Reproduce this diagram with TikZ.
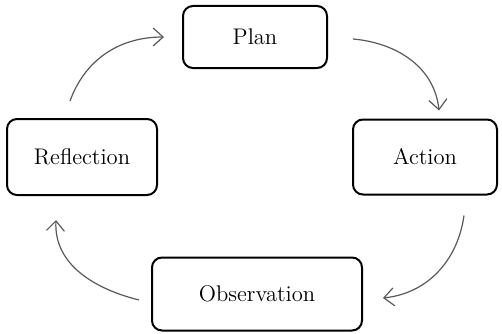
\documentclass[tikz,border=0pt]{standalone}
\usepackage{tikz}
\usetikzlibrary{arrows.meta,calc,positioning}
\tikzset{
  stage/.style={draw,rounded corners=5pt,line width=1pt,align=center,
    font=\fontsize{11.3}{13}\selectfont},
  cyc/.style={-{Straight Barb[length=5pt,width=9pt]},draw=black!65,line width=0.6pt},
}

\begin{document}
\begin{tikzpicture}[x=0.5pt,y=0.5pt]
\useasboundingbox (0,0) rectangle (502,333);
\node[stage,minimum width=72pt,minimum height=31pt] (plan) at (255,296) {Plan};
\node[stage,minimum width=72pt,minimum height=37.5pt] (action) at (425,176) {Action};
\node[stage,minimum width=105pt,minimum height=36.5pt] (obs) at (257,39) {Observation};
\node[stage,minimum width=75pt,minimum height=38pt] (refl) at (82,176) {Reflection};
% free ends of the curved arrows, just off the boxes
\coordinate (r0) at ($(refl.north)+(-12,17)$);
\coordinate (p1) at ($(plan.west)+(-18,0)$);
\coordinate (p0) at ($(plan.east)+(25,-2)$);
\coordinate (a1) at ($(action.north)+(14,8)$);
\coordinate (a0) at ($(action.south)+(39,-20)$);
\coordinate (o1) at ($(obs.east)+(20,-4)$);
\coordinate (o0) at ($(obs.west)+(-12,-6)$);
\coordinate (r1) at ($(refl.south)+(-26,-24)$);
\draw[cyc] (r0) to[out=70,in=180] (p1);
\draw[cyc] (p0) to[out=-5,in=96] (a1);
\draw[cyc] (a0) to[out=-98,in=6] (o1);
\draw[cyc] (o0) to[out=166,in=-93] (r1);
\end{tikzpicture}
\end{document}
